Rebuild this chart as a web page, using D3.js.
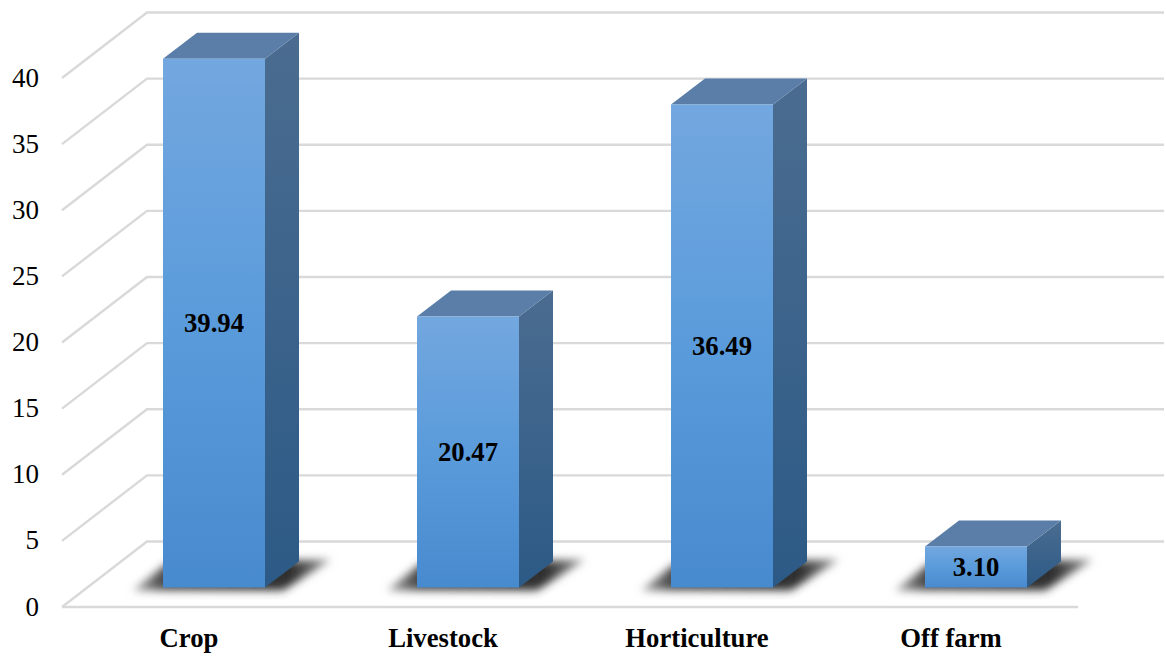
<!DOCTYPE html>
<html>
<head>
<meta charset="utf-8">
<script src="https://cdn.jsdelivr.net/npm/d3@7/dist/d3.min.js"></script>
<style>
  html, body { margin: 0; padding: 0; background: #fff; }
  svg { display: block; }
  text { font-family: "Liberation Serif", serif; fill: #000; }
</style>
</head>
<body>
<svg id="chart" width="1166" height="656"></svg>
<script>
const categories = ["Crop", "Livestock", "Horticulture", "Off farm"];
const shares = [39.94, 20.47, 36.49, 3.10];
const valueLabels = ["39.94", "20.47", "36.49", "3.10"];
const axisTicks = [0, 5, 10, 15, 20, 25, 30, 35, 40];

const svg = d3.select("#chart");
const defs = svg.append("defs");

// Oblique projection: the front of the floor, the bars, and the back wall sit at different depths
const floorLeft = 62, floorRight = 1078;
const wallDx = 85, wallDy = -65;
const wallRight = 1164;
const barDx = 34, barDy = -26;
const barWidth = 102;
const barShift = 25;

const xBand = d3.scaleBand().domain(categories).range([floorLeft, floorRight]);
const yFront = d3.scaleLinear().domain([0, 40]).range([607, 78]);
const yBar = d3.scaleLinear().domain([0, 40]).range([587.5, 58]);
const yWall = v => yFront(v) + wallDy - 0.5;

function verticalGradient(id, stops) {
  const g = defs.append("linearGradient").attr("id", id)
    .attr("x1", 0).attr("y1", 0).attr("x2", 0).attr("y2", 1);
  stops.forEach(([o, c]) => g.append("stop").attr("offset", o).attr("stop-color", c));
}
verticalGradient("frontFill", [[0, "#73a7df"], [0.5, "#5a9bdb"], [1, "#488ace"]]);
verticalGradient("sideFill", [[0, "#4b6c90"], [1, "#2c5a86"]]);

const soft = defs.append("filter").attr("id", "soft")
  .attr("x", "-30%").attr("y", "-100%").attr("width", "160%").attr("height", "300%");
soft.append("feGaussianBlur").attr("stdDeviation", 4.5);

// The shadow is densest behind the bar and thins out toward both wings
const shadowFade = defs.append("linearGradient").attr("id", "shadowFill")
  .attr("x1", 0).attr("y1", 0).attr("x2", 1).attr("y2", 0);
[[0, "#aaa"], [0.15, "#4a4a4a"], [0.8, "#2e2e2e"], [1, "#999"]].forEach(([o, c]) =>
  shadowFade.append("stop").attr("offset", o).attr("stop-color", c));

// Wall and floor gridlines
const gridColor = "#d9d9d9";
const grid = svg.append("g").attr("fill", "none").attr("stroke", gridColor).attr("stroke-width", 2.4);
grid.selectAll("path.wall").data(axisTicks).join("path").attr("class", "wall")
  .attr("d", v => d3.line()([
    [floorLeft, yFront(v)],
    [floorLeft + wallDx, yWall(v)],
    [wallRight, yWall(v)]
  ]));
grid.append("line")
  .attr("x1", floorLeft).attr("x2", floorRight)
  .attr("y1", yFront(0)).attr("y2", yFront(0));

// Value axis labels
const yAxis = d3.axisLeft(yFront).tickValues(axisTicks).tickSize(0).tickPadding(0);
const yAxisG = svg.append("g").attr("transform", "translate(39,0)").call(yAxis);
yAxisG.select(".domain").remove();
yAxisG.selectAll("text").attr("font-size", 27).attr("font-family", "Liberation Serif").attr("fill", "#111").attr("dy", "0.3em");

// Category labels
const xAxis = d3.axisBottom(xBand).tickSize(0).tickPadding(0);
const xAxisG = svg.append("g").attr("transform", "translate(0,629)").call(xAxis);
xAxisG.select(".domain").remove();
xAxisG.selectAll("text").attr("font-size", 26.7).attr("font-weight", "bold")
  .attr("font-family", "Liberation Serif").attr("fill", "#000").attr("dy", "0.68em");

const rows = categories.map((c, i) => ({ category: c, value: shares[i], label: valueLabels[i] }));
const barLeft = d => xBand(d.category) + xBand.bandwidth() / 2 + barShift - barWidth / 2;
const pts = a => a.map(p => p.join(",")).join(" ");

const bars = svg.append("g").selectAll("g").data(rows).join("g");

// Soft cast shadow on the floor
bars.append("polygon")
  .attr("fill", "url(#shadowFill)")
  .attr("filter", "url(#soft)")
  .attr("points", d => {
    const x0 = barLeft(d), x1 = x0 + barWidth, y0 = yBar(0);
    return pts([[x0 - 30, y0 + 3], [x0 + 4, y0 - 24], [x1 + barDx + 32, y0 + barDy - 2], [x1 + 18, y0 + 3]]);
  });

// Right side face
bars.append("polygon")
  .attr("fill", "url(#sideFill)")
  .attr("points", d => {
    const x1 = barLeft(d) + barWidth, yb = yBar(0), yt = yBar(d.value);
    return pts([[x1, yb], [x1, yt], [x1 + barDx, yt + barDy], [x1 + barDx, yb + barDy]]);
  });

// Top face
bars.append("polygon")
  .attr("fill", "#5a7ea8")
  .attr("points", d => {
    const x0 = barLeft(d), x1 = x0 + barWidth, yt = yBar(d.value);
    return pts([[x0, yt], [x1, yt], [x1 + barDx, yt + barDy], [x0 + barDx, yt + barDy]]);
  });

// Front face
bars.append("rect")
  .attr("x", barLeft)
  .attr("y", d => yBar(d.value))
  .attr("width", barWidth)
  .attr("height", d => yBar(0) - yBar(d.value))
  .attr("fill", "url(#frontFill)");

// Value labels centred on each front face
bars.append("text")
  .attr("x", d => barLeft(d) + barWidth / 2)
  .attr("y", d => (yBar(0) + yBar(d.value)) / 2)
  .attr("dy", "0.33em")
  .attr("text-anchor", "middle")
  .attr("font-size", 26.7)
  .attr("font-weight", "bold")
  .text(d => d.label);
</script>
</body>
</html>
